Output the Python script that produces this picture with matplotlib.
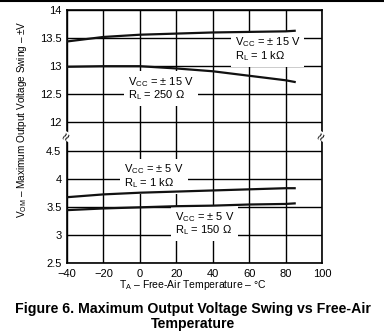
import numpy as np
import matplotlib
matplotlib.use('Agg')
import matplotlib.pyplot as plt
from matplotlib.lines import Line2D

plt.rcParams['font.family'] = ['Liberation Sans', 'DejaVu Sans']
plt.rcParams['mathtext.fontset'] = 'custom'
plt.rcParams['mathtext.rm'] = 'Liberation Sans'
plt.rcParams['mathtext.it'] = 'Liberation Sans'

# data
temp = [-40, -20, 0, 20, 40, 60, 80, 85]
v15_1k = [13.44, 13.52, 13.56, 13.58, 13.60, 13.61, 13.62, 13.63]
v15_250 = [12.99, 13.00, 13.00, 12.96, 12.91, 12.83, 12.75, 12.72]
v5_1k = [3.67, 3.72, 3.75, 3.77, 3.79, 3.81, 3.83, 3.83]
v5_150 = [3.44, 3.47, 3.49, 3.51, 3.52, 3.54, 3.55, 3.56]

xticks = [-40, -20, 0, 20, 40, 60, 80, 100]
yticks = [2.5, 3, 3.5, 4, 4.5, 12, 12.5, 13, 13.5, 14]
ytick_labels = ['2.5', '3', '3.5', '4', '4.5', '12', '12.5', '13', '13.5', '14']


# broken axis: squeeze 4.5..12 into one grid step
def fwd(v):
    v = np.asarray(v, dtype=float)
    return np.where(v >= 12, v - 7, np.where(v <= 4.5, v, 4.5 + (v - 4.5) / 15))


def inv(u):
    u = np.asarray(u, dtype=float)
    return np.where(u >= 5, u + 7, np.where(u <= 4.5, u, 4.5 + (u - 4.5) * 15))


fig = plt.figure(figsize=(3.84, 3.36), dpi=100)
ax = fig.add_axes([0.1745, 0.2173, 0.664, 0.753])
ax.set_yscale('function', functions=(fwd, inv))

for ys in (v15_1k, v15_250, v5_1k, v5_150):
    ax.plot(temp, ys, color='#111111', lw=1.6, zorder=6)

ax.set_xlim(-40, 100)
ax.set_ylim(2.5, 14)
ax.set_xticks(xticks)
ax.set_xticklabels([str(t).replace('-', '\u2212') for t in xticks])
ax.set_yticks(yticks)
ax.set_yticklabels(ytick_labels)
ax.yaxis.set_minor_locator(matplotlib.ticker.NullLocator())
ax.tick_params(length=0, pad=4, labelsize=8)
ax.grid(True, color='black', lw=1)
for s in ax.spines.values():
    s.set_linewidth(1.2)

box = dict(facecolor='white', edgecolor='none', boxstyle='square,pad=0.35')
kw = dict(fontsize=8, va='center', ha='left', bbox=box, zorder=4, linespacing=1.0)
ax.text(52, 13.30, 'V$_{\\rm CC}$ = \u00b1 15 V\nR$_{\\rm L}$ = 1 k\u03a9', **kw)
ax.text(-6.5, 12.60, 'V$_{\\rm CC}$ = \u00b1 15 V\nR$_{\\rm L}$ = 250 \u03a9', **kw)
ax.text(-8.7, 4.04, 'V$_{\\rm CC}$ = \u00b1 5 V\nR$_{\\rm L}$ = 1 k\u03a9', **kw)
ax.text(19.3, 3.20, 'V$_{\\rm CC}$ = \u00b1 5 V\nR$_{\\rm L}$ = 150 \u03a9', **kw)

# break marks on both sides
for xb in (0.0, 1.0):
    ax.text(xb, 8.25, '\u2248', transform=ax.get_yaxis_transform(),
            rotation=60, ha='center', va='center', fontsize=10,
            bbox=dict(facecolor='white', edgecolor='none', pad=0.3), clip_on=False, zorder=7)

fig.text(0.057, 0.646, 'V$_{\\rm OM}$ \u2013 Maximum Output Voltage Swing \u2013 \u00b1V',
         rotation=90, ha='center', va='center', fontsize=7.2)
fig.text(0.503, 0.152, 'T$_{\\rm A}$ \u2013 Free-Air Temperature \u2013 \u00b0C',
         ha='center', va='center', fontsize=7.5)
fig.text(0.503, 0.058, 'Figure 6. Maximum Output Voltage Swing vs Free-Air\nTemperature',
         ha='center', va='center', fontsize=10.2, fontweight='bold', linespacing=1.1)

fig.add_artist(Line2D([0, 1], [0.996, 0.996], color='black', lw=1.5))

fig.savefig('out.png', dpi=100)
